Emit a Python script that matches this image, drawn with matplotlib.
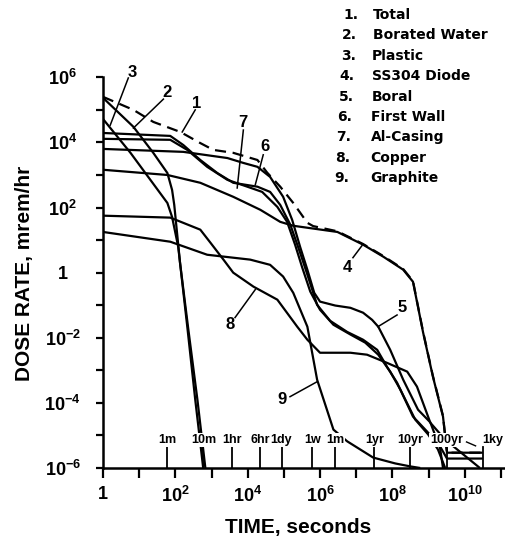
import numpy as np
import matplotlib
matplotlib.use("Agg")
import matplotlib.pyplot as plt

plt.rcParams['font.family'] = ['Liberation Sans', 'DejaVu Sans']
plt.rcParams['font.weight'] = 'bold'
plt.rcParams['mathtext.fontset'] = 'custom'
plt.rcParams['mathtext.rm'] = 'Liberation Sans:bold'
plt.rcParams['mathtext.it'] = 'Liberation Sans:bold'
plt.rcParams['mathtext.bf'] = 'Liberation Sans:bold'

# ---------------- data (log10 time [s], log10 dose rate [mrem/hr]) -------------
total_logt = [0.0, 0.84, 1.39, 2.14, 2.69, 3.05, 3.60, 4.27, 4.54, 4.90, 5.26, 5.65, 5.81,
              6.48, 7.19, 7.75, 8.30, 8.57, 8.85, 9.12, 9.40, 9.51, 10.50]
total_logd = [5.40, 5.00, 4.63, 4.32, 3.98, 3.77, 3.68, 3.46, 3.07, 2.64, 2.14, 1.53, 1.43,
              1.27, 0.88, 0.51, 0.11, -0.26, -1.82, -3.17, -4.40, -5.53, -5.53]

borated_logt = [0.0, 0.84, 1.39, 1.78, 1.91, 1.97, 2.13, 2.36, 2.61, 2.83]
borated_logd = [5.37, 4.48, 3.68, 3.06, 2.54, 2.08, 0.30, -1.75, -3.90, -6.0]

plastic_logt = [0.0, 0.76, 1.31, 1.78, 1.91, 2.08, 2.33, 2.55, 2.77]
plastic_logd = [4.72, 3.68, 2.85, 2.14, 1.71, 0.79, -1.66, -3.90, -6.0]

ss304_logt = [0.0, 1.78, 2.69, 3.60, 4.35, 4.90, 5.26, 6.48, 7.19, 7.75, 8.30, 8.57,
              8.85, 9.12, 9.40, 9.51, 10.50]
ss304_logd = [3.16, 3.00, 2.76, 2.33, 1.93, 1.56, 1.44, 1.25, 0.86, 0.49, 0.09, -0.28,
              -1.84, -3.19, -4.42, -5.53, -5.53]

boral_logt = [0.0, 2.22, 3.44, 3.88, 4.27, 4.62, 4.98, 5.23, 5.45, 5.65, 5.84, 6.00,
              6.42, 6.84, 7.19, 7.44, 7.61, 7.94, 8.30, 8.71, 9.05, 9.32, 9.40]
boral_logd = [3.80, 3.71, 3.52, 3.37, 3.25, 2.94, 2.33, 1.62, 0.79, 0.09, -0.62, -0.89,
              -1.01, -1.08, -1.23, -1.45, -1.66, -2.37, -3.29, -4.21, -4.60, -5.40, -6.0]

firstwall_logt = [0.0, 1.86, 2.22, 2.69, 3.16, 3.60, 4.27, 4.62, 4.90, 5.18, 5.45, 5.65,
                  5.92, 6.28, 6.75, 7.19, 7.58, 7.85, 8.13, 8.57, 8.96, 9.32, 9.51, 10.50]
firstwall_logd = [4.29, 4.20, 3.92, 3.46, 3.06, 2.76, 2.64, 2.48, 2.08, 1.47, 0.61, -0.06,
                  -0.99, -1.48, -1.82, -2.06, -2.37, -2.89, -3.38, -4.42, -4.88, -5.34, -5.71, -5.71]

alcasing_logt = [0.0, 1.86, 2.33, 2.88, 3.44, 3.99, 4.40, 4.82, 5.09, 5.31, 5.51, 5.73,
                 6.00, 6.37, 6.84, 7.25, 7.61, 7.94, 8.22, 8.63, 8.99, 9.26, 9.46]
alcasing_logd = [4.11, 4.08, 3.77, 3.25, 2.85, 2.64, 2.48, 2.02, 1.56, 0.86, 0.15, -0.58,
                 -1.14, -1.60, -1.90, -2.15, -2.52, -3.04, -3.59, -4.51, -4.97, -5.43, -6.0]

copper_logt = [0.0, 1.86, 2.69, 2.97, 3.33, 3.60, 4.16, 4.82, 5.37, 5.65, 6.00, 6.84,
               7.30, 7.85, 8.41, 8.68, 9.05, 9.46, 10.42]
copper_logd = [1.75, 1.69, 1.32, 0.92, 0.40, 0.00, -0.43, -0.83, -1.66, -2.06, -2.46, -2.46,
               -2.52, -2.77, -3.04, -3.50, -4.61, -5.13, -6.0]

graphite_logt = [0.0, 1.86, 2.88, 4.07, 4.62, 4.98, 5.26, 5.65, 5.92, 6.37, 6.75, 7.47,
                 8.08, 8.49, 8.77]
graphite_logd = [1.25, 0.95, 0.55, 0.40, 0.24, -0.12, -0.62, -1.66, -3.29, -4.82, -5.18,
                 -5.68, -5.86, -5.95, -6.0]

legend_names = ["Total", "Borated Water", "Plastic", "SS304 Diode", "Boral",
                "First Wall", "Al-Casing", "Copper", "Graphite"]

marker_names = ["1m", "10m", "1hr", "6hr", "1dy", "1w", "1m", "1yr", "10yr", "100yr", "1ky"]
marker_secs = [60, 600, 3600, 21600, 86400, 604800, 2.63e6, 3.156e7, 3.156e8, 3.156e9, 3.156e10]

# curve-number labels: (text, label logt, label logd, leader start, leader end)
curve_labels = [
    ("1", 2.60, 5.21, (2.55, 5.00), (2.19, 4.32)),
    ("2", 1.78, 5.52, (1.67, 5.33), (0.84, 4.44)),
    ("3", 0.81, 6.16, (0.70, 5.98), (0.20, 4.53)),
    ("7", 3.88, 4.60, (3.88, 4.38), (3.71, 2.60)),
    ("6", 4.49, 3.86, (4.43, 3.62), (4.21, 2.70)),
    ("4", 6.75, 0.15, (6.91, 0.46), (7.16, 0.83)),
    ("5", 8.27, -1.08, (8.13, -1.30), (7.60, -1.66)),
    ("8", 3.52, -1.59, (3.65, -1.38), (4.21, -0.52)),
    ("9", 4.96, -3.90, (5.17, -3.81), (5.92, -3.35)),
]

# ---------------- figure ----------------
W, H = 506, 546
fig = plt.figure(figsize=(W / 100, H / 100), dpi=100)
x0, x1, ytop, ybot = 103, 504.5, 77.3, 468
ax = fig.add_axes([x0 / W, 1 - ybot / H, (x1 - x0) / W, (ybot - ytop) / H])
ax.set_xscale('log')
ax.set_yscale('log')
ax.set_xlim(1, 10 ** 11.1)
ax.set_ylim(1e-6, 1e6)

lw = 1.6
def P(lt, ld, **kw):
    ax.plot(10.0 ** np.array(lt), 10.0 ** np.array(ld), color='black', lw=lw,
            solid_capstyle='butt', **kw)

P(borated_logt, borated_logd)
P(plastic_logt, plastic_logd)
P(ss304_logt, ss304_logd)
P(boral_logt, boral_logd)
P(firstwall_logt, firstwall_logd)
P(alcasing_logt, alcasing_logd)
P(copper_logt, copper_logd)
P(graphite_logt, graphite_logd)
P(total_logt, total_logd, linestyle=(0, (5, 3)))

# spines
for s in ['top', 'right']:
    ax.spines[s].set_visible(False)
for s in ['left', 'bottom']:
    ax.spines[s].set_linewidth(1.8)

ax.set_xticks(10.0 ** np.arange(0, 12))
xl = []
for e in range(12):
    if e == 0:
        xl.append('1')
    elif e % 2 == 0 and e <= 10:
        xl.append(r'$10^{%d}$' % e)
    else:
        xl.append('')
ax.set_xticklabels(xl)
ax.xaxis.set_minor_locator(matplotlib.ticker.NullLocator())

ax.set_yticks(10.0 ** np.arange(-6, 7))
yl = []
for e in range(-6, 7):
    if e == 0:
        yl.append('1')
    elif e % 2 == 0:
        yl.append(r'$10^{%d}$' % e)
    else:
        yl.append('')
ax.set_yticklabels(yl)
ax.yaxis.set_minor_locator(matplotlib.ticker.NullLocator())

ax.tick_params(axis='x', direction='out', length=7, width=1.6, pad=6, labelsize=13)
ax.tick_params(axis='y', direction='out', length=5, width=1.6, pad=24, labelsize=13)
for t in ax.get_yticklabels():
    t.set_horizontalalignment('center')
    t.set_fontweight('bold')
for t in ax.get_xticklabels():
    t.set_fontweight('bold')

# time markers
for name, sec in zip(marker_names, marker_secs):
    ax.plot([sec, sec], [1e-6, 10 ** -5.34], color='black', lw=1.3, clip_on=False)
    if name == "1ky":
        ax.text(sec * 0.98, 10 ** -5.33, name, ha='left', va='bottom', fontsize=9,
                fontweight='bold', zorder=5)
    else:
        ax.text(sec, 10 ** -5.33, name, ha='center', va='bottom', fontsize=9,
                fontweight='bold', zorder=5,
                bbox=dict(facecolor='white', edgecolor='none', pad=0.5))
ax.plot([10 ** 10.05, 10 ** 10.3], [10 ** -5.2, 10 ** -5.32], color='black', lw=1.0)

# curve labels and leaders
for txt, lt, ld, (a1, b1), (a2, b2) in curve_labels:
    ax.text(10 ** lt, 10 ** ld, txt, ha='center', va='center', fontsize=12,
            fontweight='bold')
    ax.plot([10 ** a1, 10 ** a2], [10 ** b1, 10 ** b2], color='black', lw=1.1)

# legend text block
for i, name in enumerate(legend_names):
    y = 15 + i * 20.4
    fig.text(358 / W - i * 0.0022, 1 - y / H, "%d." % (i + 1), ha='right', va='center',
             fontsize=10, family=['DejaVu Sans'], fontweight='bold')
    fig.text(373 / W - i * 0.0008, 1 - y / H, name, ha='left', va='center',
             fontsize=10, family=['DejaVu Sans'], fontweight='bold')

fig.text(25 / W, 1 - 273.5 / H, "DOSE RATE, mrem/hr", rotation=90, ha='center',
         va='center', fontsize=15, fontweight='bold')
fig.text(298 / W, 1 - 528 / H, "TIME, seconds", ha='center', va='center',
         fontsize=15, fontweight='bold')

fig.savefig("out.png", dpi=100, facecolor='white')
